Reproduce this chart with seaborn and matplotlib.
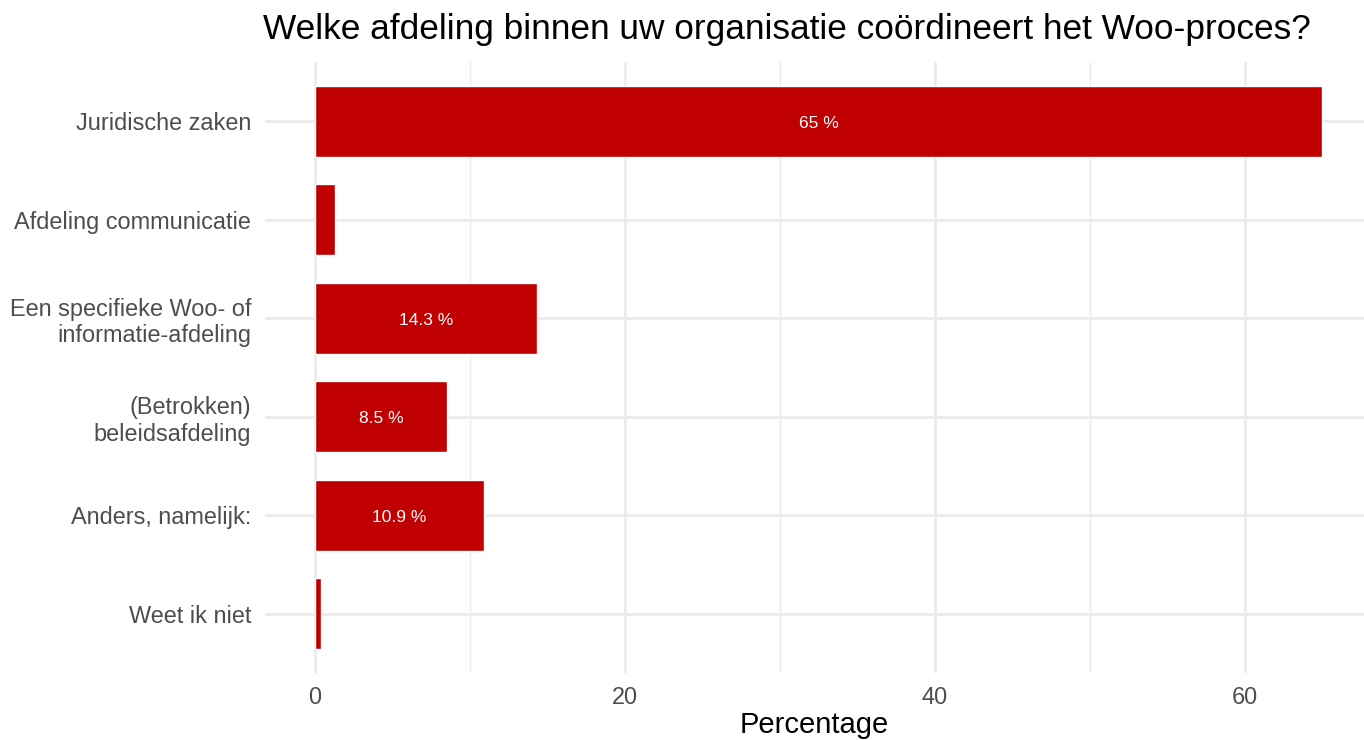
import pandas as pd
import matplotlib.pyplot as plt
import seaborn as sns
from matplotlib.ticker import MultipleLocator

# Data
categories = ['Juridische zaken', 'Afdeling communicatie',
              'Een specifieke Woo- of\ninformatie-afdeling',
              '(Betrokken)\nbeleidsafdeling', 'Anders, namelijk:', 'Weet ik niet']
percentages = [65.0, 1.3, 14.3, 8.5, 10.9, 0.4]
show_label = [True, False, True, True, True, False]

df = pd.DataFrame({'afdeling': categories, 'pct': percentages})

sns.set_theme(style='white')
plt.rcParams['font.family'] = ['Liberation Sans', 'DejaVu Sans']

fig = plt.figure(figsize=(13.64, 7.4), dpi=100)
ax = fig.add_axes([265 / 1364, 1 - 673 / 740, (1364 - 265) / 1364, (673 - 62) / 740])

sns.barplot(data=df, y='afdeling', x='pct', orient='h', color='#C00000',
            saturation=1, width=0.72, ax=ax)

# grid after barplot (seaborn switches off the categorical grid)
ax.set_axisbelow(True)
ax.xaxis.set_major_locator(MultipleLocator(20))
ax.xaxis.set_minor_locator(MultipleLocator(10))
ax.grid(which='major', axis='both', color='#ebebeb', linewidth=2.0)
ax.grid(which='minor', axis='x', color='#ebebeb', linewidth=1.0)

for i, (v, show) in enumerate(zip(percentages, show_label)):
    if show:
        ax.text(v / 2, i + 0.02, f'{v:g} %', color='white', ha='center', va='center', fontsize=12.5)

ax.set_xlim(-3.23, 67.68)
ax.set_ylim(len(categories) - 1 + 0.6, -0.6)
for s in ax.spines.values():
    s.set_visible(False)

ax.tick_params(axis='both', which='both', length=0, labelsize=16.9, labelcolor='#4d4d4d')
ax.tick_params(axis='y', pad=10)
ax.tick_params(axis='x', pad=9)
ax.set_ylabel('')
ax.set_xlabel('Percentage', fontsize=21, color='black', labelpad=2)

fig.suptitle('Welke afdeling binnen uw organisatie coördineert het Woo-proces?',
             fontsize=25.4, x=0.577, y=0.982, va='top', color='black')

fig.savefig('out.png', dpi=100)
